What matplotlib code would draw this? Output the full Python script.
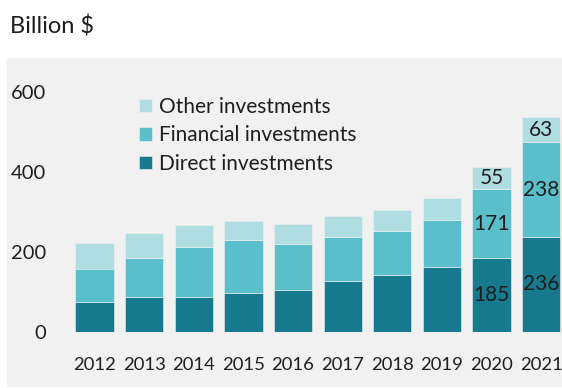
import matplotlib.pyplot as plt
import matplotlib.patches as patch
import numpy as np

years = ["2012", "2013", "2014", "2015", "2016", "2017", "2018", "2019", "2020", "2021"]
direct = [74, 86, 88, 97, 105, 127, 143, 161, 185, 236]
financial = [84, 99, 123, 133, 114, 110, 109, 118, 171, 238]
other = [64, 62, 55, 48, 50, 52, 51, 55, 55, 63]
y_ticks = [0, 200, 400, 600]

# only the last two years carry value labels
labelled_years = ["2020", "2021"]

DIRECT_COLOUR = "#17798e"
FINANCIAL_COLOUR = "#5abfcb"
OTHER_COLOUR = "#b0dde2"
PANEL_COLOUR = "#f1f1f1"
TEXT_COLOUR = "#1e1e1e"

plt.rcParams["font.family"] = ["Lato", "DejaVu Sans"]
plt.rcParams["font.size"] = 15

fig = plt.figure(figsize=(5.62, 3.88), dpi=100)
W, H = 562, 388

# grey panel behind the chart
fig.patches.append(
    patch.Rectangle(
        (7 / W, 1 - 386 / H), 1 - 7 / W, (386 - 58) / H,
        transform=fig.transFigure, color=PANEL_COLOUR, zorder=-10,
    )
)

fig.text(10 / W, 1 - 33 / H, "Billion $", fontsize=17, color=TEXT_COLOUR,
         ha="left", va="baseline")

ax = fig.add_axes([69.7 / W, 1 - 331.7 / H, 1 - 69.7 / W, (331.7 - 71.7) / H])
ax.patch.set_alpha(0)

x = np.arange(len(years))
width = 0.77
direct_arr = np.array(direct)
fin_arr = np.array(financial)
other_arr = np.array(other)

edge = dict(edgecolor=PANEL_COLOUR, linewidth=0.4)
b_direct = ax.bar(x, direct_arr, width, color=DIRECT_COLOUR, label="Direct investments", **edge)
b_fin = ax.bar(x, fin_arr, width, bottom=direct_arr, color=FINANCIAL_COLOUR,
               label="Financial investments", **edge)
b_other = ax.bar(x, other_arr, width, bottom=direct_arr + fin_arr, color=OTHER_COLOUR,
                 label="Other investments", **edge)

for bars, vals in [(b_direct, direct), (b_fin, financial), (b_other, other)]:
    labels = [str(v) if y in labelled_years else "" for y, v in zip(years, vals)]
    ax.bar_label(bars, labels=labels, label_type="center", color=TEXT_COLOUR, fontsize=15)

ax.set_xlim(-0.5, 9.42)
ax.set_ylim(0, 650)
ax.set_xticks(x)
ax.set_xticklabels(years, fontsize=13.3)
ax.set_yticks(y_ticks)
ax.set_yticklabels([str(t) for t in y_ticks], fontsize=14.5)
ax.tick_params(axis="both", length=0, colors=TEXT_COLOUR)
ax.tick_params(axis="y", pad=17)
ax.tick_params(axis="x", pad=18)
for s in ax.spines.values():
    s.set_visible(False)

handles = [b_other, b_fin, b_direct]
ax.legend(
    handles, [h.get_label() for h in handles],
    loc="upper left", bbox_to_anchor=(139 / W, 1 - 97 / H),
    bbox_transform=fig.transFigure, frameon=False,
    borderpad=0, borderaxespad=0,
    handlelength=0.6, handleheight=0.6, handletextpad=0.35,
    labelspacing=0.4, fontsize=15, labelcolor=TEXT_COLOUR,
)

fig.savefig("out.png", dpi=100)
